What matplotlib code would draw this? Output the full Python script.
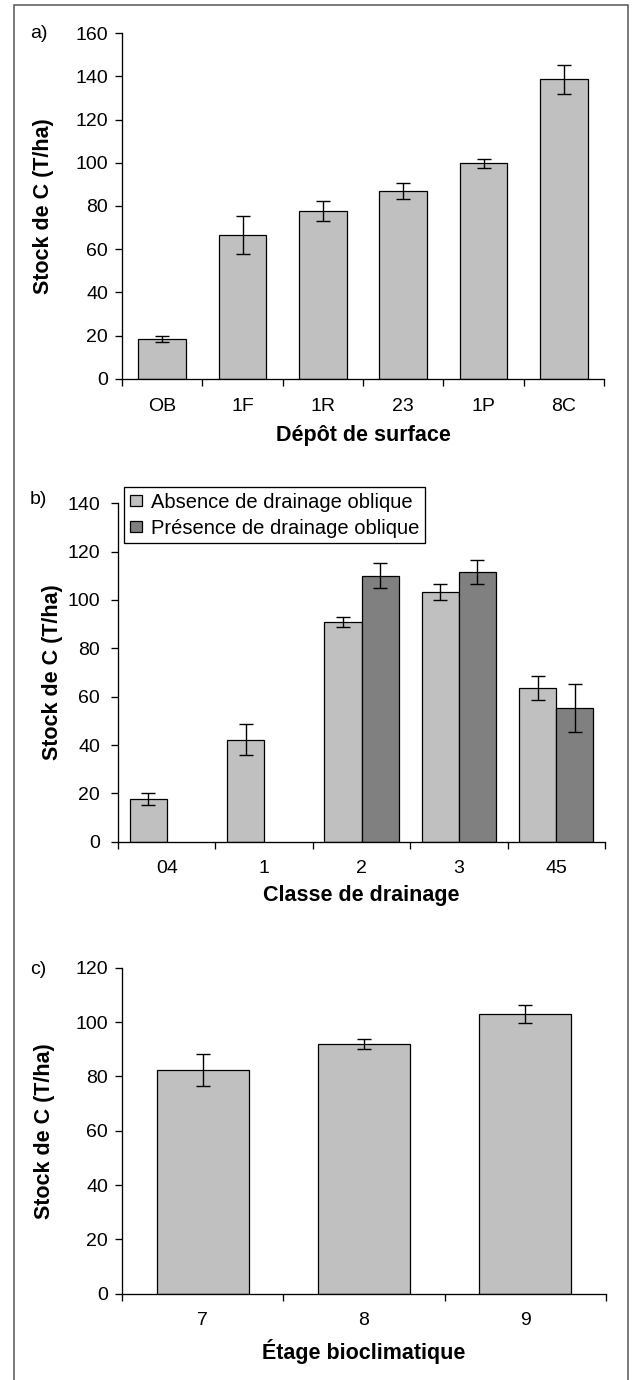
import numpy as np
import matplotlib
matplotlib.use("Agg")
import matplotlib.pyplot as plt
from matplotlib.patches import Rectangle

# a) surface deposit
depot_labels = ["OB", "1F", "1R", "23", "1P", "8C"]
depot_stock = [18.5, 66.6, 77.7, 86.8, 99.7, 138.6]
depot_err = [1.5, 8.8, 4.8, 3.7, 1.9, 6.6]

# b) drainage class
drain_labels = ["04", "1", "2", "3", "45"]
absence_stock = [17.5, 42.2, 91.0, 103.4, 63.7]
absence_err = [2.5, 6.3, 2.1, 3.3, 5.0]
presence_stock = [np.nan, np.nan, 110.1, 111.6, 55.4]
presence_err = [np.nan, np.nan, 5.1, 5.0, 10.0]

# c) bioclimatic zone
etage_labels = ["7", "8", "9"]
etage_stock = [82.3, 92.0, 102.9]
etage_err = [6.0, 1.9, 3.4]

LIGHT = "#C0C0C0"
DARK = "#808080"
W, H = 632, 1380
TICK_FS = 14
LAB_FS = 15.5

plt.rcParams["font.family"] = ["Liberation Sans", "DejaVu Sans"]
plt.rcParams["axes.linewidth"] = 0.95

fig = plt.figure(figsize=(W / 100, H / 100), dpi=100)


def px_axes(left, right, top, bottom):
    # pixel box -> figure fraction
    return [left / W, 1 - bottom / H, (right - left) / W, (bottom - top) / H]


def style_axes(ax, n, ymax, ylab_x, xlab_y, labels, ylabel, xlabel, ypad=5):
    ax.set_xlim(0, n)
    ax.set_ylim(0, ymax)
    ax.set_yticks(np.arange(0, ymax + 1, 20))
    ax.spines[["top", "right"]].set_visible(False)
    ax.set_xticks(np.arange(n + 1))
    ax.set_xticklabels([])
    ax.set_xticks(np.arange(n) + 0.5, minor=True)
    ax.set_xticklabels(labels, minor=True)
    ax.tick_params(axis="x", which="major", direction="out", length=5, width=0.95)
    ax.tick_params(axis="x", which="minor", length=0, pad=13.5, labelsize=TICK_FS)
    ax.tick_params(axis="y", direction="out", length=5, width=0.95, pad=ypad,
                   labelsize=TICK_FS)
    ax.set_ylabel(ylabel, fontsize=LAB_FS, fontweight="bold", va="center")
    ax.set_xlabel(xlabel, fontsize=LAB_FS, fontweight="bold", va="center")
    bb = ax.get_position()
    ax.yaxis.set_label_coords(ylab_x / W, (bb.y0 + bb.y1) / 2, transform=fig.transFigure)
    ax.xaxis.set_label_coords((bb.x0 + bb.x1) / 2, 1 - xlab_y / H, transform=fig.transFigure)


ekw = dict(ecolor="black", elinewidth=1.0, capsize=4.7, capthick=1.0)

# ---- a)
ax_a = fig.add_axes(px_axes(122, 604, 33, 379))
xa = np.arange(len(depot_labels)) + 0.5
ax_a.bar(xa, depot_stock, width=0.59, color=LIGHT, edgecolor="black", linewidth=0.9,
         yerr=depot_err, error_kw=ekw, zorder=2)
style_axes(ax_a, len(depot_labels), 160, 44, 435, depot_labels,
           "Stock de C (T/ha)", "Dépôt de surface")

# ---- b)
ax_b = fig.add_axes(px_axes(118, 605, 503.3, 841.7))
xb = np.arange(len(drain_labels)) + 0.5
w = 0.38
ax_b.bar(xb - w / 2, absence_stock, width=w, color=LIGHT, edgecolor="black", linewidth=0.9,
         yerr=absence_err, error_kw=ekw, label="Absence de drainage oblique", zorder=2)
pres = np.array(presence_stock)
mask = ~np.isnan(pres)
ax_b.bar((xb + w / 2)[mask], pres[mask], width=w, color=DARK, edgecolor="black", linewidth=0.9,
         yerr=np.array(presence_err)[mask], error_kw=ekw,
         label="Présence de drainage oblique", zorder=2)
style_axes(ax_b, len(drain_labels), 140, 53, 896, drain_labels,
           "Stock de C (T/ha)", "Classe de drainage", ypad=8)
leg = ax_b.legend(loc="upper left", bbox_to_anchor=(124 / W, 1 - 487 / H),
                  bbox_transform=fig.transFigure, borderaxespad=0, fontsize=14.5,
                  frameon=True, fancybox=False, edgecolor="black", framealpha=1,
                  handlelength=0.6, handleheight=0.4, handletextpad=0.45,
                  labelspacing=0.35, borderpad=0.28)
leg.get_frame().set_linewidth(0.95)

# ---- c)
ax_c = fig.add_axes(px_axes(122, 606, 967.7, 1293.7))
xc = np.arange(len(etage_labels)) + 0.5
ax_c.bar(xc, etage_stock, width=0.57, color=LIGHT, edgecolor="black", linewidth=0.9,
         yerr=etage_err, error_kw=ekw, zorder=2)
style_axes(ax_c, len(etage_labels), 120, 44.5, 1352, etage_labels,
           "Stock de C (T/ha)", "Étage bioclimatique")

# panel letters
for lab, ypx in [("a)", 33), ("b)", 499), ("c)", 970)]:
    fig.text(30 / W, 1 - ypx / H, lab, fontsize=TICK_FS, ha="left", va="center")

# outer frame
fig.patches.append(Rectangle((14 / W, -0.01), 614 / W, 1.01 - 5 / H,
                             transform=fig.transFigure, fill=False,
                             edgecolor="#555555", linewidth=1.1))

fig.savefig("out.png", dpi=100)
